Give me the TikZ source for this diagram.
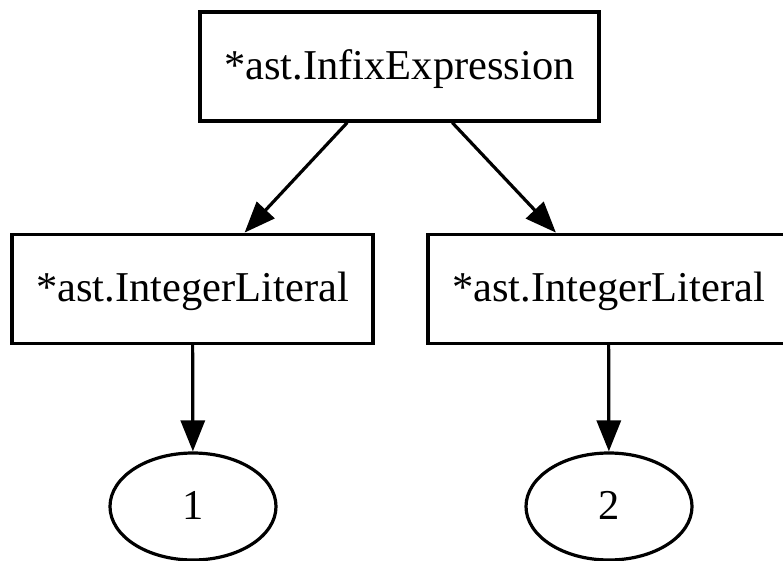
\documentclass[tikz,border=0pt]{standalone}
\usepackage{fontspec}
\setmainfont{Liberation Serif}
\usetikzlibrary{arrows.meta,shapes.geometric}
\begin{document}
\begin{tikzpicture}[x=1pt,y=-1pt,
  every node/.style={font=\fontsize{42.5}{50}\selectfont, inner sep=0pt, text height=30pt, text depth=4pt},
  boxnode/.style={draw, line width=3.2pt, rectangle, minimum height=109pt},
  ellnode/.style={draw, line width=3.2pt, ellipse, minimum width=166pt, minimum height=107pt},
  edge/.style={line width=3.2pt, -{Triangle[length=31pt,width=24pt]}}]
\useasboundingbox (0,0) rectangle (783,561);
\node[boxnode, minimum width=399pt] (top) at (399.5,66.5) {*ast.InfixExpression};
\node[boxnode, minimum width=361pt] (left) at (192.5,288.7) {*ast.IntegerLiteral};
\node[boxnode, minimum width=361pt] (right) at (608.5,288.7) {*ast.IntegerLiteral};
\node[ellnode] (one) at (193,506.5) {1};
\node[ellnode] (two) at (609,506.5) {2};
\draw[edge] (top) -- (left);
\draw[edge] (top) -- (right);
\draw[edge] (left) -- (one);
\draw[edge] (right) -- (two);
\end{tikzpicture}
\end{document}
